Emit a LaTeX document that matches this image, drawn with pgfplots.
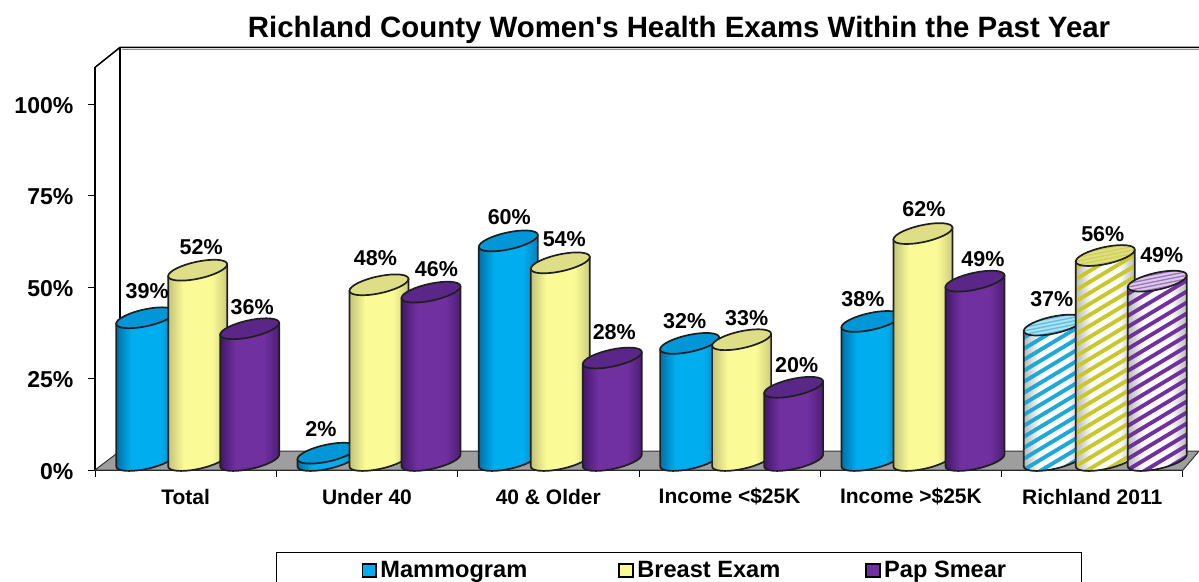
\documentclass[border=0pt]{standalone}
\usepackage{pgfplots}
\pgfplotsset{compat=1.18}
\usepackage{fontspec}
\setmainfont{Liberation Sans}[Ligatures=TeXOff]
\definecolor{bA}{RGB}{0,112,170}\definecolor{bB}{RGB}{0,174,239}\definecolor{bC}{RGB}{0,130,190}\definecolor{bT}{RGB}{0,150,215}
\definecolor{yA}{RGB}{195,195,120}\definecolor{yB}{RGB}{250,250,150}\definecolor{yC}{RGB}{205,205,125}\definecolor{yT}{RGB}{222,222,135}
\definecolor{pA}{RGB}{66,24,104}\definecolor{pB}{RGB}{112,48,160}\definecolor{pC}{RGB}{76,30,116}\definecolor{pT}{RGB}{90,38,135}
\definecolor{gA}{RGB}{185,185,185}\definecolor{gB}{RGB}{252,252,252}
\definecolor{stB}{RGB}{28,168,216}\definecolor{stY}{RGB}{200,200,40}\definecolor{stP}{RGB}{112,48,160}
\pgfdeclarehorizontalshading{sB}{100bp}{color(0bp)=(bA);color(25bp)=(bA);color(38bp)=(bB);color(62bp)=(bB);color(75bp)=(bC);color(100bp)=(bC)}
\pgfdeclarehorizontalshading{sY}{100bp}{color(0bp)=(yA);color(25bp)=(yA);color(38bp)=(yB);color(62bp)=(yB);color(75bp)=(yC);color(100bp)=(yC)}
\pgfdeclarehorizontalshading{sP}{100bp}{color(0bp)=(pA);color(25bp)=(pA);color(38bp)=(pB);color(62bp)=(pB);color(75bp)=(pC);color(100bp)=(pC)}
\pgfdeclarehorizontalshading{sG}{100bp}{color(0bp)=(gA);color(25bp)=(gA);color(38bp)=(gB);color(62bp)=(gB);color(75bp)=(gA);color(100bp)=(gA)}
\pgfdeclareplotmark{emptymark}{}
\def\cylA{29.5}\def\cylB{8.6}\def\cylS{0.2}
% solid cylinder: #1 x shift, #2 shading, #3 top colour
\newcommand{\solidcyl}[3]{%
  \pgfmathsetmacro\cylH{\val*3.66}%
  \begin{scope}[x=1pt,y=1pt,line join=round]
    \pgftransformshift{\pgfqpoint{#1pt}{9.5pt}}\pgftransformyslant{\cylS}%
    \path[shade,shading=#2,draw=black!88,line width=1.7pt]
      (-\cylA,0) -- (-\cylA,-\cylH) arc[start angle=180,end angle=360,x radius=\cylA,y radius=\cylB] -- (\cylA,0) -- cycle;
    \path[fill=#3,draw=black!88,line width=1.7pt] (0,0) ellipse[x radius=\cylA,y radius=\cylB];
  \end{scope}}
% striped cylinder: #1 x shift, #2 stripe colour, #3 top colour
\newcommand{\stripecyl}[3]{%
  \pgfmathsetmacro\cylH{\val*3.66}%
  \begin{scope}[x=1pt,y=1pt,line join=round]
    \pgftransformshift{\pgfqpoint{#1pt}{9.5pt}}\pgftransformyslant{\cylS}%
    \path[shade,shading=sG] (-\cylA,0) -- (-\cylA,-\cylH) arc[start angle=180,end angle=360,x radius=\cylA,y radius=\cylB] -- (\cylA,0) -- cycle;
    \begin{scope}
      \clip (-\cylA,0) -- (-\cylA,-\cylH) arc[start angle=180,end angle=360,x radius=\cylA,y radius=\cylB] -- (\cylA,0) -- cycle;
      \foreach \k in {-22,...,5} {\draw[#2,line width=3.9pt] (-40,\k*11) -- (40,\k*11+32);}
    \end{scope}
    \path[draw=black!88,line width=1.7pt] (-\cylA,0) -- (-\cylA,-\cylH) arc[start angle=180,end angle=360,x radius=\cylA,y radius=\cylB] -- (\cylA,0);
    \path[fill=#3] (0,0) ellipse[x radius=\cylA,y radius=\cylB];
    \begin{scope}
      \clip (0,0) ellipse[x radius=\cylA,y radius=\cylB];
      \foreach \k in {-5,...,5} {\draw[#2,opacity=0.55,line width=1.4pt] (-40,\k*3.6) -- (40,\k*3.6);}
    \end{scope}
    \path[draw=black!88,line width=1.7pt] (0,0) ellipse[x radius=\cylA,y radius=\cylB];
  \end{scope}}
\pgfplotsset{
  cylplot/.style={only marks,scatter,scatter src=y,mark=emptymark,visualization depends on={y \as \val},
    scatter/@post marker code/.code={}},
  solid cyl/.style n args={3}{cylplot,scatter/@pre marker code/.code={\solidcyl{#1}{#2}{#3}}},
  stripe cyl/.style n args={3}{cylplot,forget plot,scatter/@pre marker code/.code={\stripecyl{#1}{#2}{#3}}},
  lab/.style={only marks,mark=emptymark,forget plot,point meta=y,
    visualization depends on={\thisrow{dx} \as \dx},visualization depends on={\thisrow{dy} \as \dy},
    nodes near coords={\pgfmathprintnumber[fixed,precision=0,assume math mode=true]{\pgfplotspointmeta}\%},
    every node near coord/.style={font=\fontsize{21.5}{24}\selectfont\bfseries,anchor=center,inner sep=0pt,xshift=\dx pt,yshift=\dy pt}},
}
\begin{document}
\begin{tikzpicture}[x=1pt,y=1pt]
\useasboundingbox (0,0) rectangle (1199,581);
\begin{axis}[
  scale only axis,width=1088pt,height=402.6pt,
  anchor=south west,at={(95pt,111pt)},
  xmin=-0.5,xmax=5.5,ymin=0,ymax=110,clip=false,
  axis x line*=bottom,axis y line*=left,axis line style={-,line width=1.5pt},
  tick align=outside,
  ytick={0,25,50,75,100},yticklabels={0\%,25\%,50\%,75\%,100\%},
  y tick label style={font=\fontsize{23}{26}\selectfont\bfseries,inner sep=0pt,xshift=-15pt,yshift=-1.5pt},
  xtick={0,...,5},
  xticklabels={Total,Under 40,40 \& Older,Income <\$25K,Income >\$25K,Richland 2011},
  x tick label style={font=\fontsize{21}{24}\selectfont\bfseries,inner sep=0pt,anchor=center,yshift=-20pt},
  major x tick style={draw=none},
  minor xtick={-0.5,0.5,1.5,2.5,3.5,4.5,5.5},
  tick style={black,line width=0.9pt},
  major tick length=6.5pt,minor tick length=6.5pt,
  title={Richland County Women's Health Exams Within the Past Year},
  every axis title shift=0pt,
  title style={font=\fontsize{29.4}{32}\selectfont\bfseries,at={(0.5368,1.092)},anchor=center,inner sep=0pt},
  legend columns=3,
  legend style={at={(276pt-95pt,-82pt)},anchor=north west,draw=black,line width=1pt,
    font=\fontsize{23.6}{26}\selectfont\bfseries,inner xsep=85pt,inner ysep=7pt,
    /tikz/every even column/.append style={column sep=0pt}},
]
% walls and floor
\draw[line width=1pt,black!45] (axis cs:-0.5,110) ++(27pt,18pt) -- ++(1077pt,0pt);
\draw[line width=1.5pt,fill=none] (axis cs:-0.5,110) -- ++(25pt,20pt) -- ++(1079pt,0pt);
\draw[line width=1.5pt] (axis cs:-0.5,110) ++(25pt,20pt) -- ++(0pt,-404pt);
\draw[fill=black!38,draw=black!80,line width=1pt] (axis cs:-0.5,0) -- ++(25pt,19pt) -- ++(1079pt,0pt) -- ++(-16pt,-19pt) -- cycle;

\addplot[solid cyl={-40}{sB}{bT},legend image code/.code={\draw[fill=bB,line width=1.8pt] (0.5pt,-6.5pt) rectangle (14pt,6.5pt);\path (16pt,0pt);}]
  coordinates {(0,39)(1,2)(2,60)(3,32)(4,38)};
\addlegendentry{\makebox[236pt][l]{Mammogram}}
\addplot[solid cyl={12}{sY}{yT},legend image code/.code={\draw[fill=yB,line width=1.8pt] (0.5pt,-6.5pt) rectangle (14pt,6.5pt);\path (16pt,0pt);}]
  coordinates {(0,52)(1,48)(2,54)(3,33)(4,62)};
\addlegendentry{\makebox[226pt][l]{Breast Exam}}
\addplot[solid cyl={64}{sP}{pT},legend image code/.code={\draw[fill=pB,line width=1.8pt] (0.5pt,-6.5pt) rectangle (14pt,6.5pt);\path (16pt,0pt);}]
  coordinates {(0,36)(1,46)(2,28)(3,20)(4,49)};
\addlegendentry{\makebox[110pt][l]{Pap Smear}}
% Richland 2011
\addplot[stripe cyl={-39}{stB}{stB!35}] coordinates {(5,37)};
\addplot[stripe cyl={13}{stY}{yT}] coordinates {(5,56)};
\addplot[stripe cyl={65}{stP}{stP!25}] coordinates {(5,49)};
% value labels
\addplot[lab] table {
x y dx dy
0 39 -38.5 36
1 2 -46 34
2 60 -39 33
3 32 -45 32
4 38 -48 32
};
\addplot[lab] table {
x y dx dy
0 52 15.5 33
1 48 8.5 36
2 54 16 33
3 33 17 31
4 62 13 34
5 56 10.5 31
};
\addplot[lab] table {
x y dx dy
0 36 66.5 31
1 46 69.5 33
2 28 66 35
3 20 67 32
4 49 72 32
5 49 69.5 36
};
\addplot[lab] table {
x y dx dy
5 37 -40.5 35
};
\end{axis}
\end{tikzpicture}
\end{document}
